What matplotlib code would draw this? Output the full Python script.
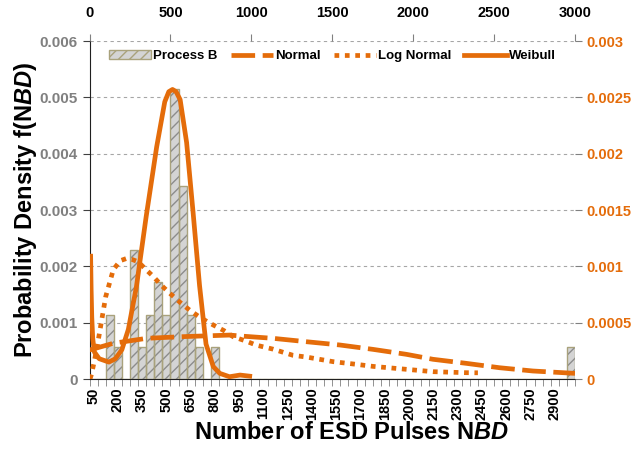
import numpy as np
import matplotlib
matplotlib.use("Agg")
import matplotlib.pyplot as plt
from matplotlib.patches import Patch
from matplotlib.lines import Line2D

plt.rcParams['font.family'] = ['Liberation Sans', 'DejaVu Sans']
plt.rcParams['font.weight'] = 'bold'
plt.rcParams['mathtext.fontset'] = 'custom'
plt.rcParams['mathtext.it'] = 'Liberation Sans:italic:bold'
plt.rcParams['hatch.linewidth'] = 1.0

# ====== DATA ======
# histogram bins (category axis), 50..3000 step 50
bin_labels = list(range(50, 3001, 50))
# counts per bin (N = 35)
counts = {150: 2, 200: 1, 300: 4, 350: 1, 400: 2, 450: 3, 500: 2,
          550: 9, 600: 6, 650: 2, 700: 1, 800: 1, 3000: 1}
n_total = 35
bin_width = 50

# fitted curves (x on top axis, y on right axis)
normal_x = [0, 147, 353, 559, 867, 929, 1134, 1340, 1546, 1752, 1958, 2122, 2328, 2534, 2740, 3000]
normal_y = [0.000257, 0.000317, 0.000361, 0.000375, 0.000390, 0.000382, 0.000361, 0.000331,
            0.000302, 0.000263, 0.000219, 0.000175, 0.000139, 0.000100, 0.000071, 0.000050]

lognorm_x = [3, 12, 30, 50, 75, 100, 147, 190, 229, 265, 301, 350, 394, 445, 497, 560, 620,
             690, 764, 830, 888, 960, 1032, 1134, 1258, 1340, 1505, 1650, 1752, 1958, 2122, 2328, 2400]
lognorm_y = [0.0, 0.00004, 0.00016, 0.00031, 0.00052, 0.00073, 0.00097, 0.00105, 0.00107, 0.00106,
             0.00104, 0.00097, 0.00091, 0.00083, 0.00076, 0.00068, 0.00061, 0.00054, 0.00048,
             0.00043, 0.000375, 0.00034, 0.00030, 0.000265, 0.00021, 0.000195, 0.000154,
             0.00013, 0.000112, 0.000086, 0.000065, 0.000056, 0.000055]

weibull_x = [7, 10, 14, 20, 30, 60, 120, 160, 200, 240, 290, 350, 415, 465, 490, 513, 535, 560,
             600, 640, 680, 720, 765, 805, 865, 930, 990]
weibull_y = [0.00109, 0.00080, 0.00055, 0.00036, 0.00024, 0.00018, 0.00015, 0.00018, 0.00026,
             0.00044, 0.00082, 0.00144, 0.00206, 0.00246, 0.00255, 0.00257, 0.00255, 0.00248,
             0.00210, 0.00148, 0.00083, 0.00031, 0.00011, 0.00005, 0.00002, 0.000035, 0.000025]

left_ticks = [0, 0.001, 0.002, 0.003, 0.004, 0.005, 0.006]
left_labels = ['0', '0.001', '0.002', '0.003', '0.004', '0.005', '0.006']
right_ticks = [0, 0.0005, 0.001, 0.0015, 0.002, 0.0025, 0.003]
right_labels = ['0', '0.0005', '0.001', '0.0015', '0.002', '0.0025', '0.003']
top_ticks = [0, 500, 1000, 1500, 2000, 2500, 3000]

ORANGE = '#E46C0A'
GREY_TXT = '#808080'

density = [counts.get(b, 0) / (n_total * bin_width) for b in bin_labels]
pos = np.arange(len(bin_labels))

fig = plt.figure(figsize=(6.32, 4.69), dpi=100)
rect = [89.5 / 632, 1 - 379 / 469, (575 - 89.5) / 632, (379 - 41) / 469]
ax = fig.add_axes(rect)

ax.bar(pos, density, width=1.0, color='#D4D4D4', edgecolor='#8C8C8C', linewidth=0,
       hatch='///', zorder=2)
ax.bar(pos, density, width=1.0, fill=False, edgecolor='#A9A27C', linewidth=1.0, zorder=3)

ax.set_xlim(-0.5, len(bin_labels) - 0.5)
ax.set_ylim(0, 0.006)
ax.set_yticks(left_ticks)
ax.set_yticklabels(left_labels, color=GREY_TXT, fontsize=11, fontweight='bold')
ax.yaxis.grid(True, color='#A6A6A6', linestyle=(0, (3, 3)), linewidth=0.8)
ax.set_axisbelow(True)

lab_pos = pos[::3]
ax.set_xticks(lab_pos)
ax.set_xticklabels([str(bin_labels[i]) for i in lab_pos], rotation=90, fontsize=10.5,
                   fontweight='bold', va='top', ha='center')
ax.set_xticks(np.arange(-0.5, len(bin_labels), 1), minor=True)
ax.tick_params(axis='x', which='major', length=0, pad=6)
ax.tick_params(axis='x', which='minor', length=5, color='#808080', direction='out')
ax.tick_params(axis='y', length=5, color='#404040', direction='out')

for s in ['top', 'right']:
    ax.spines[s].set_visible(False)
ax.spines['left'].set_linestyle((0, (2, 1)))
ax.spines['left'].set_color('#202020')
ax.spines['bottom'].set_color('#202020')

ax.set_ylabel(r"Probability Density f(N$\it{BD}$)", fontsize=17, fontweight='bold', labelpad=0)
ax.set_xlabel(r"Number of ESD Pulses N$\it{BD}$", fontsize=17, fontweight='bold')
ax.xaxis.set_label_coords(0.539, -0.125)

# secondary axes for fitted curves
ax2 = fig.add_axes(rect, frameon=False)
ax2.patch.set_visible(False)
ax2.xaxis.tick_top()
ax2.yaxis.tick_right()
ax2.set_xlim(0, 3000)
ax2.set_ylim(0, 0.003)
ax2.set_xticks(top_ticks)
ax2.set_xticklabels([str(t) for t in top_ticks], fontsize=10.5, fontweight='bold')
ax2.set_yticks(right_ticks)
ax2.set_yticklabels(right_labels, color=ORANGE, fontsize=10.5, fontweight='bold')
ax2.tick_params(axis='both', length=5, color='#808080', direction='out')
ax2.tick_params(axis='x', pad=10)
ax2.spines['top'].set_visible(True)
ax2.spines['right'].set_visible(True)
ax2.spines['top'].set_color('#404040')
ax2.spines['right'].set_color('#404040')

lw = 3.4
ax2.plot(normal_x, normal_y, color=ORANGE, lw=lw, linestyle=(0, (5, 1.6)), solid_capstyle='butt')
ax2.plot(lognorm_x, lognorm_y, color=ORANGE, lw=lw, linestyle=(0, (1, 1.2)), dash_capstyle='butt')
ax2.plot(weibull_x, weibull_y, color=ORANGE, lw=lw, solid_joinstyle='round')

handles = [
    Patch(facecolor='#D4D4D4', edgecolor='#A9A27C', hatch='///', linewidth=1.0),
    Line2D([0], [0], color=ORANGE, lw=lw, linestyle=(0, (5, 1.6))),
    Line2D([0], [0], color=ORANGE, lw=lw, linestyle=(0, (1, 1.2))),
    Line2D([0], [0], color=ORANGE, lw=lw),
]
ax2.legend(handles, ['Process B', 'Normal', 'Log Normal', 'Weibull'], ncol=4, frameon=False,
           loc='upper center', bbox_to_anchor=(0.5, 1.0), prop={'weight': 'bold', 'size': 9.5},
           handlelength=3.2, handleheight=0.7, handletextpad=0.15, columnspacing=1.0,
           borderaxespad=0.3)

fig.savefig("out.png", dpi=100, facecolor='white')
